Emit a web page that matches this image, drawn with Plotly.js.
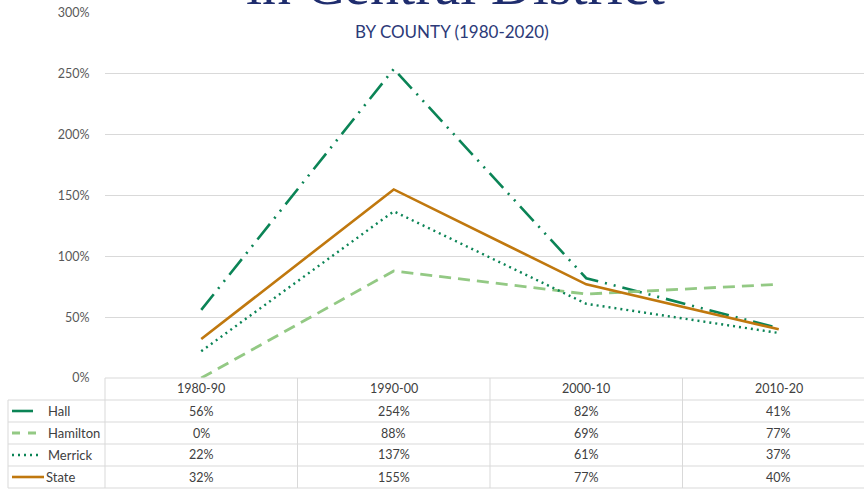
<!DOCTYPE html>
<html>
<head>
<meta charset="utf-8">
<script src="https://cdn.plot.ly/plotly-3.0.1.min.js"></script>
<style>
html,body{margin:0;padding:0;overflow:hidden;background:#fff;width:864px;height:489px;}
#chart{width:880px;height:489px;}
</style>
</head>
<body>
<div id="chart"></div>
<script>
// ---- data ----
var categories = ["1980-90", "1990-00", "2000-10", "2010-20"];
var seriesNames = ["Hall", "Hamilton", "Merrick", "State"];
var hall = [56, 254, 82, 41];
var hamilton = [0, 88, 69, 77];
var merrick = [22, 137, 61, 37];
var state = [32, 155, 77, 40];
var yTicks = [0, 50, 100, 150, 200, 250, 300];
var titleText = "in Central District";
var subtitleText = "BY COUNTY (1980-2020)";

// ---- styles ----
var allValues = [hall, hamilton, merrick, state];
var styles = [
  {color: "#0b8456", width: 2.6, dash: "20px,7px,2px,7px,2px,7px"},
  {color: "#93c984", width: 2.8, dash: "12px,7px"},
  {color: "#0b8456", width: 2.4, dash: "2px,4px"},
  {color: "#c0780e", width: 2.6, dash: "solid"}
];

var W = 880, H = 489;
var L = 105, R = 5, T = 13, B = 111;
var plotH = H - T - B;
var plotW = W - L - R;
function py(Y) { return (H - B - Y) / plotH; }
function px(X) { return (X - L) / plotW; }

var traces = allValues.map(function (vals, i) {
  return {
    type: "scatter", mode: "lines", name: seriesNames[i],
    x: categories, y: vals,
    line: {color: styles[i].color, width: styles[i].width, dash: styles[i].dash},
    cliponaxis: false, hoverinfo: "skip"
  };
});

var textColor = "#404040";
var gridColor = "#d9d9d9";
var fontFam = "Lato, 'Open Sans', sans-serif";
var annotations = [];
var shapes = [];

// title + subtitle
annotations.push({xref: "paper", yref: "paper", x: px(455), y: py(19), xanchor: "center", yanchor: "bottom",
  text: titleText, showarrow: false, font: {family: "'Liberation Serif', 'Times New Roman', serif", size: 58, color: "#1f2d6e"}});
annotations.push({xref: "paper", yref: "paper", x: px(452), y: py(31), xanchor: "center", yanchor: "middle",
  text: subtitleText, showarrow: false, font: {family: fontFam, size: 17, color: "#2c3a78"}});

// table geometry
var headerCenter = 388;
var rowTop = 400, rowH = 22;
var tableLeft = 8;

categories.forEach(function (c, j) {
  annotations.push({xref: "x", yref: "paper", x: j, y: py(headerCenter), xanchor: "center", yanchor: "middle",
    text: c, showarrow: false, font: {family: fontFam, size: 12.5, color: textColor}});
});
var keyEnds = [33, 40, 42, 44];
var keyDash = ["solid", "8px,8px", "2px,4px", "solid"];
allValues.forEach(function (vals, i) {
  var yc = rowTop + rowH * i + rowH / 2;
  vals.forEach(function (v, j) {
    annotations.push({xref: "x", yref: "paper", x: j, y: py(yc), xanchor: "center", yanchor: "middle",
      text: v + "%", showarrow: false, font: {family: fontFam, size: 12.5, color: textColor}});
  });
  var labelX = (i === 3) ? 44 : 46;
  shapes.push({type: "line", xref: "paper", yref: "paper", x0: px(12), x1: px(keyEnds[i]), y0: py(yc), y1: py(yc),
    line: {color: styles[i].color, width: styles[i].width, dash: keyDash[i]}});
  annotations.push({xref: "paper", yref: "paper", x: px(labelX), y: py(yc), xanchor: "left", yanchor: "middle",
    text: seriesNames[i], showarrow: false, font: {family: fontFam, size: 13, color: textColor}});
});

var tableRight = W - R;
var bottom = rowTop + rowH * allValues.length;
shapes.push({type: "line", xref: "paper", yref: "paper", x0: 0, x1: px(tableRight), y0: py(H - B), y1: py(H - B), line: {color: gridColor, width: 1}});
for (var r = 0; r <= allValues.length; r++) {
  var yy = rowTop + rowH * r;
  shapes.push({type: "line", xref: "paper", yref: "paper", x0: px(tableLeft), x1: px(tableRight), y0: py(yy), y1: py(yy), line: {color: gridColor, width: 1}});
}
shapes.push({type: "line", xref: "paper", yref: "paper", x0: px(tableLeft), x1: px(tableLeft), y0: py(rowTop), y1: py(bottom), line: {color: gridColor, width: 1}});
for (var k = 0; k <= categories.length; k++) {
  shapes.push({type: "line", xref: "paper", yref: "paper", x0: k / categories.length, x1: k / categories.length, y0: py(H - B), y1: py(bottom), line: {color: gridColor, width: 1}});
}

var layout = {
  width: W, height: H,
  margin: {l: L, r: R, t: T, b: B, pad: 0},
  paper_bgcolor: "#ffffff", plot_bgcolor: "#ffffff",
  showlegend: false,
  xaxis: {type: "category", range: [-0.5, categories.length - 0.5], showticklabels: false, showgrid: false,
    zeroline: false, showline: false, ticks: ""},
  yaxis: {range: [0, 300], tickvals: yTicks, ticktext: yTicks.map(function (v) { return v + "%"; }),
    showgrid: true, gridcolor: gridColor, gridwidth: 1, zeroline: false, showline: false,
    ticks: "outside", ticklen: 12, tickcolor: "rgba(0,0,0,0)",
    tickfont: {family: fontFam, size: 12.5, color: "#595959"}},
  annotations: annotations,
  shapes: shapes
};

Plotly.newPlot("chart", traces, layout, {displayModeBar: false, staticPlot: true});
</script>
</body>
</html>
